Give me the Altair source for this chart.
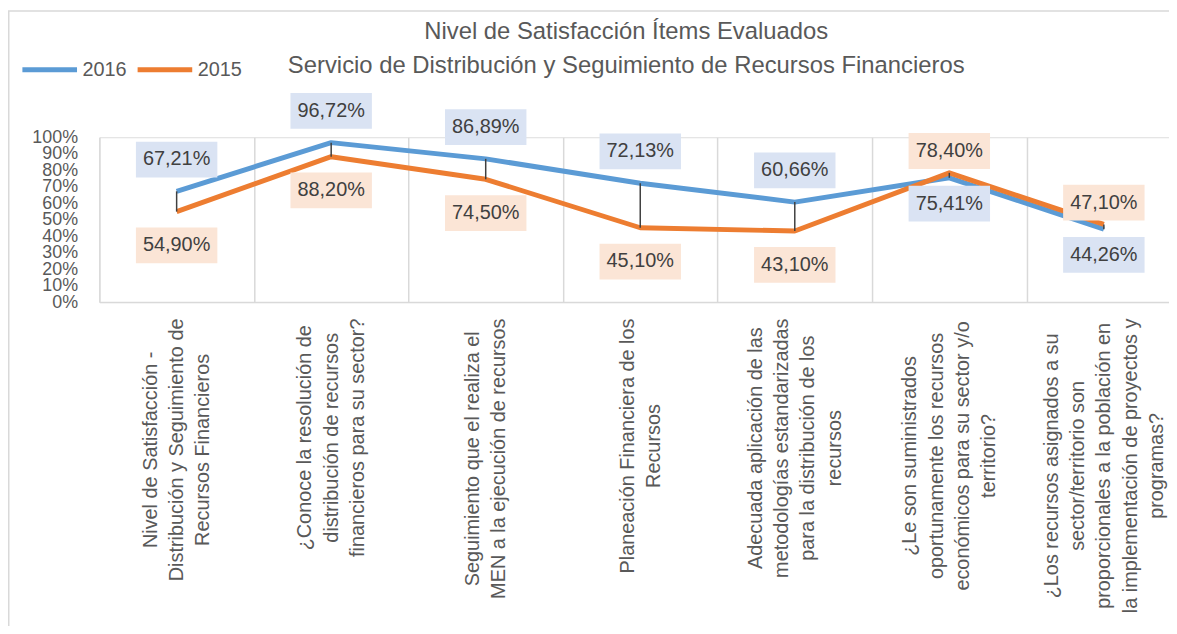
import json
import altair as alt
import pandas as pd

# ---- data ----
categories = [
    "Nivel de Satisfacción -\nDistribución y Seguimiento de\nRecursos Financieros",
    "¿Conoce la resolución de\ndistribución de recursos\nfinancieros para su sector?",
    "Seguimiento que el realiza el\nMEN a la ejecución de recursos",
    "Planeación Financiera de los\nRecursos",
    "Adecuada aplicación de las\nmetodologías estandarizadas\npara la distribución de los\nrecursos",
    "¿Le son suministrados\noportunamente los recursos\neconómicos para su  sector y/o\nterritorio?",
    "¿Los recursos asignados a su\nsector/territorio son\nproporcionales a la población en\nla implementación de proyectos y\nprogramas?",
]
series_names = ["2016", "2015"]
values_2016 = [67.21, 96.72, 86.89, 72.13, 60.66, 75.41, 44.26]
values_2015 = [54.90, 88.20, 74.50, 45.10, 43.10, 78.40, 47.10]
y_ticks = list(range(0, 101, 10))
title_lines = [
    "Nivel de Satisfacción Ítems Evaluados",
    "Servicio de Distribución y Seguimiento de Recursos Financieros",
]

# ---- tables ----
rows = []
for c, a, b in zip(categories, values_2016, values_2015):
    rows.append(dict(cat=c, serie="2016", value=a, hi=a >= b))
    rows.append(dict(cat=c, serie="2015", value=b, hi=b > a))
df = pd.DataFrame(rows)
df["label"] = df["value"].map(lambda v: f"{v:.2f}".replace(".", ",") + "%")
wide = pd.DataFrame({"cat": categories, "v16": values_2016, "v15": values_2015})

FONT = "Liberation Sans"
GRAY = "#595959"
GRID = "#D9D9D9"
BLUE, ORANGE = "#5B9BD5", "#ED7D31"
BOX_FILL = {"2016": "#DAE3F3", "2015": "#FBE5D6"}
OFFSETS = {("2016", True): -32, ("2016", False): 26, ("2015", True): -22, ("2015", False): 34}
BOX_W, BOX_H = 82, 36
hr = BOX_H / BOX_W
box_shape = f"M-1,-{hr:.4f}L1,-{hr:.4f}L1,{hr:.4f}L-1,{hr:.4f}Z"

PLOT_W, PLOT_H = 1077, 166
BAND = 155.6
LINE_H = 26.5
XLAB_SIZE = 20

# Arial / Liberation Sans advance widths (1/1000 em) to centre the wrapped
# category labels the way the spreadsheet does (block top at the axis).
_W = dict(zip("abcdefghijklmnopqrstuvwxyz",
              [556, 556, 500, 556, 556, 278, 556, 556, 222, 222, 500, 222, 833,
               556, 556, 556, 556, 333, 500, 278, 556, 500, 722, 500, 500, 500]))
_W.update({"á": 556, "é": 556, "í": 278, "ó": 556, "ú": 556, "ñ": 556,
           "A": 667, "C": 722, "D": 722, "E": 667, "F": 611, "L": 556, "M": 833,
           "N": 722, "P": 667, "R": 722, "S": 667, " ": 278, "-": 333, "/": 278,
           "?": 556, "¿": 611, ",": 278, ".": 278})


def text_w(s):
    return sum(_W.get(ch, 556) for ch in s) / 1000 * XLAB_SIZE


first_lines = [c.split("\n")[0] for c in categories]
label_half = [round(max(text_w(l) for l in c.split("\n")) / 2, 1) for c in categories]
pad_expr = (f"16 + {json.dumps(label_half)}"
            f"[indexof({json.dumps(first_lines, ensure_ascii=False)}, "
            f"split(datum.label, '\\n')[0])]")
off_expr = f"-(length(split(datum.label, '\\n')) - 1) * {LINE_H / 2}"

x_enc = alt.X(
    "cat:N",
    sort=categories,
    bandPosition=0.5,
    title=None,
    scale=alt.Scale(type="band", domain=categories, range=[0, BAND * len(categories)],
                    paddingInner=0, paddingOuter=0),
    axis=alt.Axis(
        grid=True, tickBand="extent", gridColor=GRID, gridWidth=1.5,
        domain=True, domainColor=GRID, domainWidth=1.5,
        ticks=False, labelAngle=270, labelAlign="center", labelBaseline="middle",
        labelPadding={"expr": pad_expr}, labelFontSize=XLAB_SIZE, labelLineHeight=LINE_H,
        labelColor=GRAY, labelFont=FONT, labelLimit=600,
        labelExpr="split(datum.label, '\\n')",
        labelOffset={"expr": off_expr},
    ),
)
y_scale = alt.Scale(domain=[0, 100], nice=False, zero=True)
y_axis = alt.Axis(
    values=y_ticks, labelExpr="datum.value + '%'", grid=False, domain=False,
    ticks=False, tickSize=0, labelPadding=22, labelFontSize=18, labelColor=GRAY,
    labelFont=FONT, labelOverlap=False, title=None,
)
y_enc = alt.Y("value:Q", title=None, scale=y_scale, axis=y_axis)
color_enc = alt.Color(
    "serie:N",
    scale=alt.Scale(domain=series_names, range=[BLUE, ORANGE]),
    legend=alt.Legend(
        orient="none", legendX=-80, legendY=-98, direction="horizontal", title=None,
        symbolType="stroke", symbolSize=3025, symbolStrokeWidth=5,
        labelFontSize=20, labelColor=GRAY, labelFont=FONT, labelOffset=3,
        columnPadding=0, padding=0,
    ),
)

layers = []

border = alt.Chart(pd.DataFrame({"a": [1]})).mark_rect(
    fillOpacity=0, stroke=GRID, strokeWidth=1.5
).encode(
    x=alt.value(-91.25), x2=alt.value(1400), y=alt.value(-127), y2=alt.value(700)
)
layers.append(border)

for s in series_names:
    layers.append(
        alt.Chart(df[df.serie == s]).mark_line(strokeWidth=5, strokeJoin="round")
        .encode(x=x_enc, y=y_enc, color=color_enc)
    )

layers.append(
    alt.Chart(wide).mark_rule(color="#404040", strokeWidth=1.5)
    .encode(x=x_enc, y=alt.Y("v16:Q", title=None, scale=y_scale, axis=y_axis), y2="v15:Q")
)

for (s, hi), off in OFFSETS.items():
    sub = df[(df.serie == s) & (df.hi == hi)]
    if sub.empty:
        continue
    layers.append(
        alt.Chart(sub).mark_point(
            shape=box_shape, size=BOX_W * BOX_W, filled=True, fill=BOX_FILL[s],
            opacity=1, strokeWidth=0, yOffset=off,
        ).encode(x=x_enc, y=y_enc)
    )
    layers.append(
        alt.Chart(sub).mark_text(
            font=FONT, fontSize=20, color="#404040", baseline="middle", align="center",
            yOffset=off,
        ).encode(x=x_enc, y=y_enc, text="label:N")
    )

chart = alt.layer(*layers).properties(
    width=PLOT_W,
    height=PLOT_H,
    autosize=alt.AutoSizeParams(type="none"),
    padding={"left": 92, "top": 128, "right": 0, "bottom": 324},
    title=alt.Title(
        text=title_lines, fontSize=24, font=FONT, color=GRAY, fontWeight="normal",
        lineHeight=34, anchor="middle", offset=-68, dx=-8,
    ),
).configure_view(stroke=None).configure(background="white")

chart.save("out.html", embed_options={"renderer": "svg", "actions": False})
